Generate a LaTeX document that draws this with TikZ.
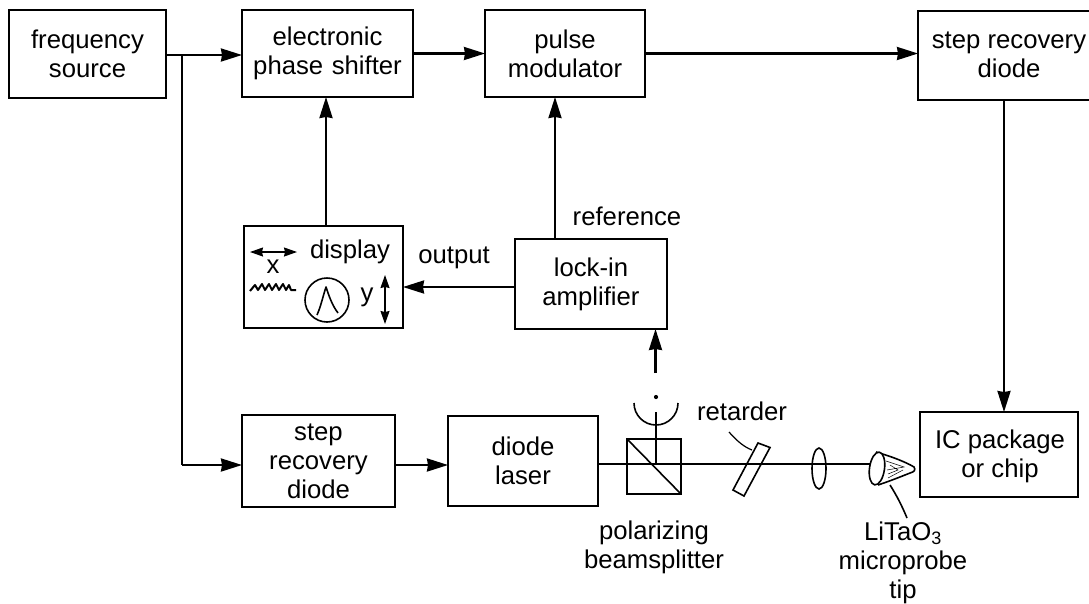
\documentclass[tikz,border=0pt]{standalone}
\usepackage{fontspec}
\setmainfont{Liberation Sans}
\usetikzlibrary{arrows.meta,shapes.geometric}
\tikzset{
  x=1pt,y=-1pt,
  every node/.style={font=\fontsize{25.7}{29}\selectfont,inner sep=0pt,outer sep=0pt,text=black},
  blk/.style={draw=black,line width=2.1pt,align=center,text width=#1,minimum width=#1},
  lab/.style={align=center},
  conn/.style={line width=2.2pt,-{Stealth[length=21pt,width=13pt,inset=1pt]}},
  wire/.style={line width=2.2pt},
  optic/.style={line width=1.6pt},
  dbl/.style={line width=1.2pt,{Stealth[length=13pt,width=9pt,inset=1pt]}-{Stealth[length=13pt,width=9pt,inset=1pt]}},
}
\begin{document}
\begin{tikzpicture}
\useasboundingbox (0,0) rectangle (1089,603);
\fill[white] (0,0) rectangle (1089,603);
% boxes
\node[blk=157pt,minimum height=88pt] (fs) at (87.5,54) {frequency\\source};
\node[blk=171pt,minimum height=87pt] (eps) at (327.5,53.5) {electronic\\phase shifter};
\node[blk=160pt,minimum height=87pt] (pm) at (565,53.5) {pulse\\modulator};
\node[minimum width=171pt,minimum height=89pt] (srd1) at (1003.5,55.5) {};
\draw[line width=2.1pt] (srd1.north east) -- (srd1.north west) -- (srd1.south west) -- (srd1.south east);
\node[lab] (srd1t) at (1009,54.5) {step recovery\\diode};
\node[draw=black,line width=2.1pt,minimum width=159pt,minimum height=102pt] (disp) at (323.5,277) {};
\node[blk=152pt,minimum height=90pt] (lia) at (591,284) {lock-in\\amplifier};
\node[blk=153pt,minimum height=92pt] (srd2) at (318.5,461) {step\\recovery\\diode};
\node[blk=150pt,minimum height=90pt] (dl) at (523,461) {diode\\laser};
\node[draw=black,line width=2.8pt,minimum width=158pt,minimum height=85pt] (ic) at (999,454.5) {};
\node[lab] (ict) at (1000,456) {IC package\\or chip};
\node[draw=black,line width=1.6pt,minimum width=54pt,minimum height=55pt] (cube) at (654,466.5) {};
% labels
\node (lref) at (627,216) {reference};
\node (lout) at (454,258) {output};
\node (lret) at (742,411) {retarder};
\node[lab] (lpbs) at (654,547) {polarizing\\beamsplitter};
\node[lab] (ltip) at (903,563) {LiTaO\textsubscript{3}\\microprobe\\tip};
\node (ldisp) at (350,252) {display};
\node (lx) at (273,267) {x};
\node (ly) at (367,297) {y};
% helper coordinates
\coordinate (branch) at (182,55);
\coordinate (corner) at (182,465);
\coordinate (dispUp) at (326,226);
\coordinate (epsIn) at (326,97);
\coordinate (liaUp) at (555,239);
\coordinate (pmIn) at (555,97);
\coordinate (detA) at (655.5,373);
\coordinate (detT) at (655.5,329);
\coordinate (srdOut) at (1004,100);
\coordinate (icIn) at (1004,412);
\coordinate (beamE) at (872,464);
% connectors
\draw[conn] (fs.east |- branch) -- (eps.west |- branch);
\draw[wire] (branch) -- (corner);
\draw[conn] (corner) -- (srd2.west |- corner);
\draw[conn] (eps.east) -- (pm.west);
\draw[conn] (pm.east) -- (srd1.west |- pm.east);
\draw[conn] (dispUp) -- (epsIn);
\draw[conn] (liaUp) -- (pmIn);
\draw[conn] (lia.west |- 0,287) -- (disp.east |- 0,287);
\draw[conn] (detA) -- (detT);
\draw[conn] (srd2.east |- corner) -- (dl.west |- corner);
\draw[conn] (srdOut) -- (icIn);
% retarder
\draw[optic] (758,443) -- (770,447.5) -- (744,496) -- (733,490) -- cycle;
\draw[line width=1.2pt] (729,432) .. controls (737,441) and (744,447) .. (752,450);
% beam
\draw[wire] (dl.east |- beamE) -- (cube.west |- beamE);
\draw[line width=2.8pt] (681,464) -- (beamE);
\draw[wire] (627,464) -- (681,464);
\draw[optic] (656,412) -- (656,464);
% cube diagonal
\draw[optic] (cube.north west) -- (cube.south east);
% detector
\draw[optic] (634,403) arc[start angle=180,end angle=0,radius=22];
\fill (656,397) circle (2.1);
% lens
\node[draw=black,optic,ellipse,minimum width=14pt,minimum height=41pt] (lens) at (819,468.5) {};
% probe
\draw[optic,fill=white] (876,452) .. controls (890,456) and (906,462) .. (914,467) .. controls (916,470) and (914,472) .. (910,473) .. controls (900,477) and (890,481) .. (878,485);
\node[draw=black,optic,ellipse,fill=white,minimum width=15pt,minimum height=33pt,rotate=-8] (probe) at (877,468.5) {};
\draw[line width=0.5pt] (886,461) -- (904,467) -- (887,470) (888,478) -- (903,470) (890,465) -- (898,470) -- (888,474);
\draw[optic] (890,485) .. controls (897,496) and (902,506) .. (907,518);
% display internals
\draw[dbl] (250,252) -- (297,252);
\draw[dbl] (385,275) -- (385,324);
\draw[optic] (327,300) circle (22);
\draw[optic,line join=round] (317,315) .. controls (321,306) and (323,296) .. (326,287) .. controls (329,296) and (332,305) .. (338,313);
\draw[line width=2pt,line join=round] (250,291) -- (255,285) -- (258,290) -- (262,284) -- (265,290) -- (269,284) -- (272,290) -- (276,284) -- (279,290) -- (283,284) -- (286,290) -- (289,285) -- (291,290) -- (296,290);
\end{tikzpicture}
\end{document}
